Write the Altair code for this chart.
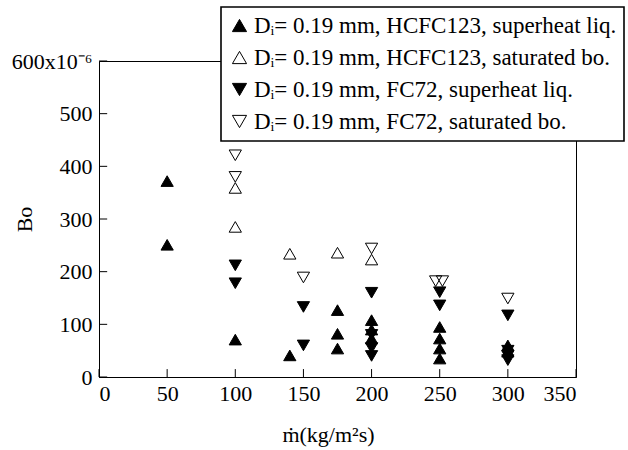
import altair as alt
import pandas as pd

FONT = "Liberation Serif"

labels = [
    "Dᵢ= 0.19 mm, HCFC123, superheat liq.",
    "Dᵢ= 0.19 mm, HCFC123, saturated bo.",
    "Dᵢ= 0.19 mm, FC72, superheat liq.",
    "Dᵢ= 0.19 mm, FC72, saturated bo.",
]

# HCFC123, superheat liquid (filled up-triangles)
s1_x = [50, 50, 100, 140, 175, 175, 175, 200, 200, 200, 250, 250, 250, 250, 300, 300]
s1_y = [372, 251, 71, 41, 127, 82, 54, 108, 90, 73, 95, 73, 54, 35, 60, 48]
# HCFC123, saturated boiling (open up-triangles)
s2_x = [100, 100, 140, 175, 200]
s2_y = [359, 285, 234, 236, 223]
# FC72, superheat liquid (filled down-triangles)
s3_x = [100, 100, 150, 150, 200, 200, 200, 200, 250, 250, 300, 300, 300, 300]
s3_y = [212, 178, 133, 60, 160, 80, 55, 40, 161, 136, 117, 50, 40, 32]
# FC72, saturated boiling (open down-triangles)
s4_x = [100, 100, 150, 200, 247, 252, 300]
s4_y = [421, 380, 189, 244, 182, 182, 149]

x_ticks = [0, 50, 100, 150, 200, 250, 300, 350]
y_ticks = [0, 100, 200, 300, 400, 500, 600]

rows = []
for lab, xs, ys in zip(labels, [s1_x, s2_x, s3_x, s4_x], [s1_y, s2_y, s3_y, s4_y]):
    for a, b in zip(xs, ys):
        rows.append({"m": a, "Bo": b, "series": lab})
df = pd.DataFrame(rows)

xscale = alt.Scale(domain=[0, 350], nice=False, zero=False)
yscale = alt.Scale(domain=[0, 600], nice=False, zero=False)

leg = alt.Legend(title=None, orient="none", legendX=122, legendY=-54,
                 symbolStrokeWidth=1)

points = alt.Chart(df).mark_point(size=150, strokeWidth=1, opacity=1, filled=False).encode(
    x=alt.X("m:Q", scale=xscale, title="ṁ(kg/m²s)",
            axis=alt.Axis(values=x_ticks, ticks=False, grid=False, labelPadding=6,
                          titlePadding=20, titleX=229)),
    y=alt.Y("Bo:Q", scale=yscale, title="Bo",
            axis=alt.Axis(values=y_ticks, ticks=False, grid=False, labelPadding=7,
                          labelExpr="datum.value == 600 ? '600x10⁻⁶' : datum.label",
                          titleX=-63, titleY=158)),
    shape=alt.Shape("series:N", sort=labels,
                    scale=alt.Scale(domain=labels,
                                    range=["triangle-up", "triangle-up", "triangle-down", "triangle-down"]),
                    legend=leg),
    fill=alt.Fill("series:N", sort=labels,
                  scale=alt.Scale(domain=labels, range=["black", "transparent", "black", "transparent"]),
                  legend=leg),
    stroke=alt.Stroke("series:N", sort=labels,
                      scale=alt.Scale(domain=labels, range=["black", "black", "black", "black"]),
                      legend=leg),
)

xt = pd.DataFrame({"v": x_ticks})
yt = pd.DataFrame({"v": y_ticks})

xtick_layer = alt.Chart(xt).mark_rule(color="black", strokeWidth=1).encode(
    x=alt.X("v:Q", scale=xscale), y=alt.datum(0), y2=alt.datum(15))
ytick_layer = alt.Chart(yt).mark_rule(color="black", strokeWidth=1).encode(
    y=alt.Y("v:Q", scale=yscale), x=alt.datum(0), x2=alt.datum(6))

chart = alt.layer(xtick_layer, ytick_layer, points).properties(
    width=477, height=316,
    autosize=alt.AutoSizeParams(type="none"),
    padding={"left": 99, "top": 61, "right": 52, "bottom": 73},
    background="white",
).configure_view(
    stroke="black", strokeWidth=1
).configure_axis(
    labelFont=FONT, labelFontSize=22, labelColor="black",
    titleFont=FONT, titleFontSize=22, titleColor="black", titleFontWeight="normal",
    domainColor="black", domainWidth=1,
).configure_legend(
    labelFont=FONT, labelFontSize=23, labelColor="black", labelLimit=0,
    symbolSize=200, symbolStrokeWidth=1,
    strokeColor="black", strokeWidth=1.6, fillColor="white", padding=7, rowPadding=8,
    symbolOffset=0, labelOffset=3,
)

chart.save("out.html", embed_options={"renderer": "svg", "actions": False})
